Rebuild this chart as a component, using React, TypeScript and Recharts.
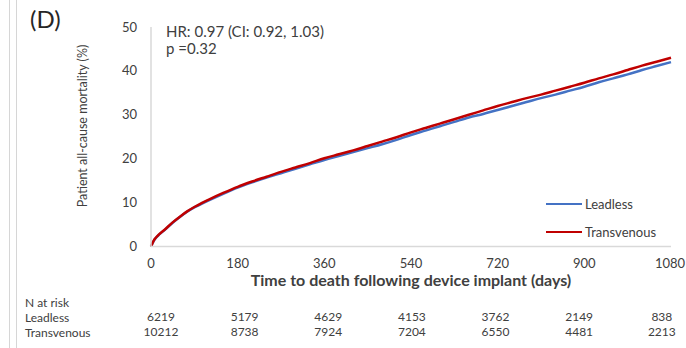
import React from "react";
import { LineChart, Line, XAxis, YAxis, Legend } from "recharts";

// Follow-up time points (days since implant)
const DAYS = [
  0, 7, 15, 30, 45, 60, 75, 90, 105, 120, 150, 180, 210, 240, 270, 300, 330,
  360, 390, 420, 450, 480, 510, 540, 570, 600, 630, 660, 690, 720, 750, 780,
  810, 840, 870, 900, 930, 960, 990, 1020, 1050, 1080,
];

// Cumulative all-cause mortality (%)
const LEADLESS = [
  0, 1.5, 2.5, 3.9, 5.4, 6.7, 7.9, 8.9, 9.7, 10.5, 12.0, 13.4, 14.6, 15.7,
  16.7, 17.7, 18.7, 19.7, 20.6, 21.5, 22.4, 23.3, 24.3, 25.4, 26.4, 27.4,
  28.4, 29.4, 30.2, 31.1, 32.0, 32.9, 33.8, 34.6, 35.5, 36.4, 37.4, 38.3,
  39.2, 40.2, 41.1, 42.0,
];
const TRANSVENOUS = [
  0, 1.6, 2.6, 4.0, 5.5, 6.8, 8.0, 9.0, 9.9, 10.7, 12.2, 13.6, 14.8, 15.9,
  17.0, 18.0, 19.0, 20.1, 21.0, 21.9, 22.9, 23.9, 24.9, 26.0, 27.0, 28.0,
  29.0, 30.0, 31.0, 32.0, 32.9, 33.8, 34.6, 35.5, 36.4, 37.3, 38.3, 39.2,
  40.2, 41.2, 42.1, 43.0,
];

const X_TICKS = [0, 180, 360, 540, 720, 900, 1080];
const Y_TICKS = [0, 10, 20, 30, 40, 50];

// Number at risk at each x tick
const AT_RISK_LEADLESS = [6219, 5179, 4629, 4153, 3762, 2149, 838];
const AT_RISK_TRANSVENOUS = [10212, 8738, 7924, 7204, 6550, 4481, 2213];

const data = DAYS.map((day, i) => ({
  day,
  leadless: LEADLESS[i],
  transvenous: TRANSVENOUS[i],
}));

const FONT = "Lato, 'Open Sans', sans-serif";
const TEXT = "#404040";
const AXIS = "#d9d9d9";
const BLUE = "#4472C4";
const RED = "#C00000";

const PLOT_LEFT = 151;

const XTick = (props: any) => {
  const { x, y, payload } = props;
  return (
    <text x={x} y={y} dy={21} textAnchor="middle" fontFamily={FONT} fontSize={13} fill={TEXT}>
      {payload.value}
    </text>
  );
};

const YTick = (props: any) => {
  const { x, y, payload } = props;
  return (
    <text x={x} y={y} dy={4.5} textAnchor="end" fontFamily={FONT} fontSize={13} fill={TEXT}>
      {payload.value}
    </text>
  );
};

// Risk-table columns sit on a slightly narrower grid than the axis ticks
const riskTick = (values: number[]) => (props: any) => {
  const { x, y, payload } = props;
  const idx = X_TICKS.indexOf(payload.value);
  const cx = PLOT_LEFT + 10 + (x - PLOT_LEFT) * 0.965;
  return (
    <text x={cx} y={y} dy={10.5} textAnchor="middle" fontFamily={FONT} fontSize={12} fill={TEXT}>
      {values[idx]}
    </text>
  );
};

const YLabel = (props: any) => {
  const { viewBox } = props;
  const cx = viewBox.x - 9;
  const cy = viewBox.y + 99;
  return (
    <text
      x={cx}
      y={cy}
      transform={`rotate(-90, ${cx}, ${cy})`}
      textAnchor="middle"
      dominantBaseline="central"
      fontFamily={FONT}
      fontSize={12.5}
      fill={TEXT}
    >
      Patient all-cause mortality (%)
    </text>
  );
};

const LegendBox = (props: any) => {
  const { payload } = props;
  return (
    <div>
      {(payload || []).map((entry: any) => (
        <div
          key={entry.value}
          style={{ display: "flex", alignItems: "center", height: 28, fontFamily: FONT, fontSize: 13, color: TEXT }}
        >
          <span style={{ display: "inline-block", width: 36, height: 2.5, background: entry.color, marginRight: 3 }} />
          <span>{entry.value}</span>
        </div>
      ))}
    </div>
  );
};

export default function App() {
  return (
    <div style={{ position: "absolute", left: 0, top: 0, width: 686, height: 348, background: "#fff", overflow: "hidden" }}>
      <div style={{ position: "absolute", left: 9, top: 0, width: 1, height: 348, background: "#d6d6d6" }} />
      <div style={{ position: "absolute", left: 16, top: 0, width: 1, height: 348, background: "#d6d6d6" }} />
      <div style={{ position: "absolute", left: 30, top: 4, fontFamily: FONT, fontSize: 24, color: "#262626" }}>(D)</div>
      <div style={{ position: "absolute", left: 166, top: 23, fontFamily: FONT, fontSize: 15, color: TEXT, lineHeight: "17px" }}>
        <div>HR: 0.97 (CI: 0.92, 1.03)</div>
        <div>p =0.32</div>
      </div>
      <div style={{ position: "absolute", left: 25, top: 295, fontFamily: FONT, fontSize: 12, color: TEXT, lineHeight: "15px" }}>
        <div>N at risk</div>
        <div>Leadless</div>
        <div>Transvenous</div>
      </div>
      <LineChart
        width={686}
        height={348}
        data={data}
        margin={{ top: 27, right: 15, left: 91, bottom: 7.5 }}
      >
        <XAxis
          xAxisId="main"
          dataKey="day"
          type="number"
          domain={[0, 1080]}
          ticks={X_TICKS}
          height={64}
          tickSize={0}
          tickMargin={0}
          tickLine={false}
          axisLine={{ stroke: AXIS, strokeWidth: 1.5 }}
          tick={<XTick />}
          label={{
            value: "Time to death following device implant (days)",
            position: "insideTop",
            offset: 28,
            fontFamily: FONT,
            fontSize: 16,
            fontWeight: "bold",
            fill: TEXT,
          }}
        />
        <XAxis
          xAxisId="riskLeadless"
          dataKey="day"
          type="number"
          domain={[0, 1080]}
          ticks={X_TICKS}
          height={15}
          tickSize={0}
          tickMargin={0}
          tickLine={false}
          axisLine={false}
          tick={riskTick(AT_RISK_LEADLESS)}
        />
        <XAxis
          xAxisId="riskTransvenous"
          dataKey="day"
          type="number"
          domain={[0, 1080]}
          ticks={X_TICKS}
          height={15}
          tickSize={0}
          tickMargin={0}
          tickLine={false}
          axisLine={false}
          tick={riskTick(AT_RISK_TRANSVENOUS)}
        />
        <YAxis
          type="number"
          domain={[0, 50]}
          ticks={Y_TICKS}
          width={60}
          tickSize={0}
          tickMargin={14}
          tickLine={false}
          axisLine={{ stroke: AXIS, strokeWidth: 1.5 }}
          tick={<YTick />}
          label={<YLabel />}
        />
        <Legend
          layout="vertical"
          verticalAlign="middle"
          align="center"
          wrapperStyle={{ position: "absolute", left: 546, top: 190, width: 130 }}
          content={<LegendBox />}
        />
        <Line
          xAxisId="main"
          type="monotone"
          dataKey="leadless"
          name="Leadless"
          stroke={BLUE}
          strokeWidth={2.5}
          dot={false}
          isAnimationActive={false}
        />
        <Line
          xAxisId="main"
          type="monotone"
          dataKey="transvenous"
          name="Transvenous"
          stroke={RED}
          strokeWidth={2.5}
          dot={false}
          isAnimationActive={false}
        />
      </LineChart>
    </div>
  );
}
